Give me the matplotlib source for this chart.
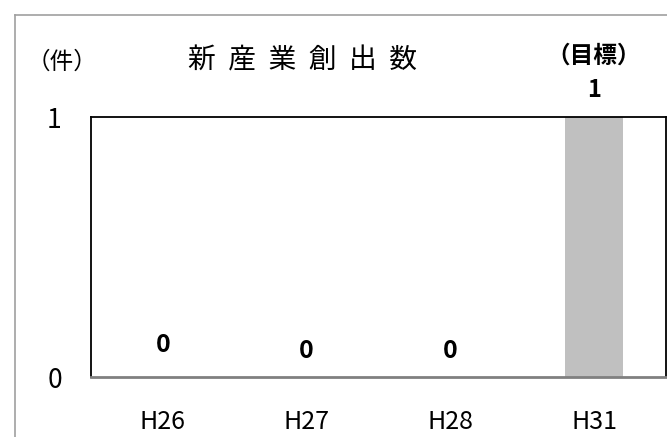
import numpy as np
import matplotlib.pyplot as plt
from matplotlib.lines import Line2D

plt.rcParams['font.family'] = ['Noto Sans CJK JP', 'DejaVu Sans']

categories = ["H26", "H27", "H28", "H31"]
values = [0, 0, 0, 1]
label_offsets = [23, 19, 19, 0]  # value label heights above the baseline, in points
title = "新  産  業  創  出  数"
unit = "（件）"
target_note = "（目標）"

fig = plt.figure(figsize=(6.67, 4.37), dpi=100)
ax = fig.add_axes([91/667, 1-377/437, 575/667, 260/437])

x = np.arange(len(categories))
bar_colors = ["#c0c0c0" if i == len(categories)-1 else "none" for i in x]
ax.bar(x, values, width=0.4, color=bar_colors, zorder=2)

ax.set_xlim(-0.5, len(categories)-0.5)
ax.set_ylim(0, 1)
ax.set_yticks([0, 1])
ax.set_yticklabels(["0", "1"], fontsize=19)
ax.set_xticks(x)
ax.set_xticklabels(categories, fontsize=18)
ax.tick_params(length=0)
ax.tick_params(axis='x', pad=23)
ax.tick_params(axis='y', pad=21)
for s in ["top", "right", "left"]:
    ax.spines[s].set_color("black")
    ax.spines[s].set_linewidth(1.3)
ax.spines["bottom"].set_color("#808080")
ax.spines["bottom"].set_linewidth(2)

for i, v in enumerate(values):
    if i == len(values)-1:
        continue
    ax.annotate(str(v), (x[i], v), xytext=(0, label_offsets[i]), textcoords="offset points",
                ha="center", va="center", fontsize=18, fontweight="bold")

fig.text(594/667, 1-90/437, str(values[-1]), ha="center", va="center", fontsize=17, fontweight="bold")
fig.text(594/667, 1-56/437, target_note, ha="center", va="center", fontsize=17, fontweight="bold")
fig.text(302/667, 1-60/437, title, ha="center", va="center", fontsize=20)
fig.text(62/667, 1-62/437, unit, ha="center", va="center", fontsize=17)

# outer chart frame (cut off at right and bottom)
fig.add_artist(Line2D([15/667, 15/667], [0, 1-15/437], transform=fig.transFigure, color="#a0a0a0", lw=1.2))
fig.add_artist(Line2D([15/667, 1], [1-15/437, 1-15/437], transform=fig.transFigure, color="#a0a0a0", lw=1.2))

fig.savefig("out.png", dpi=100)
